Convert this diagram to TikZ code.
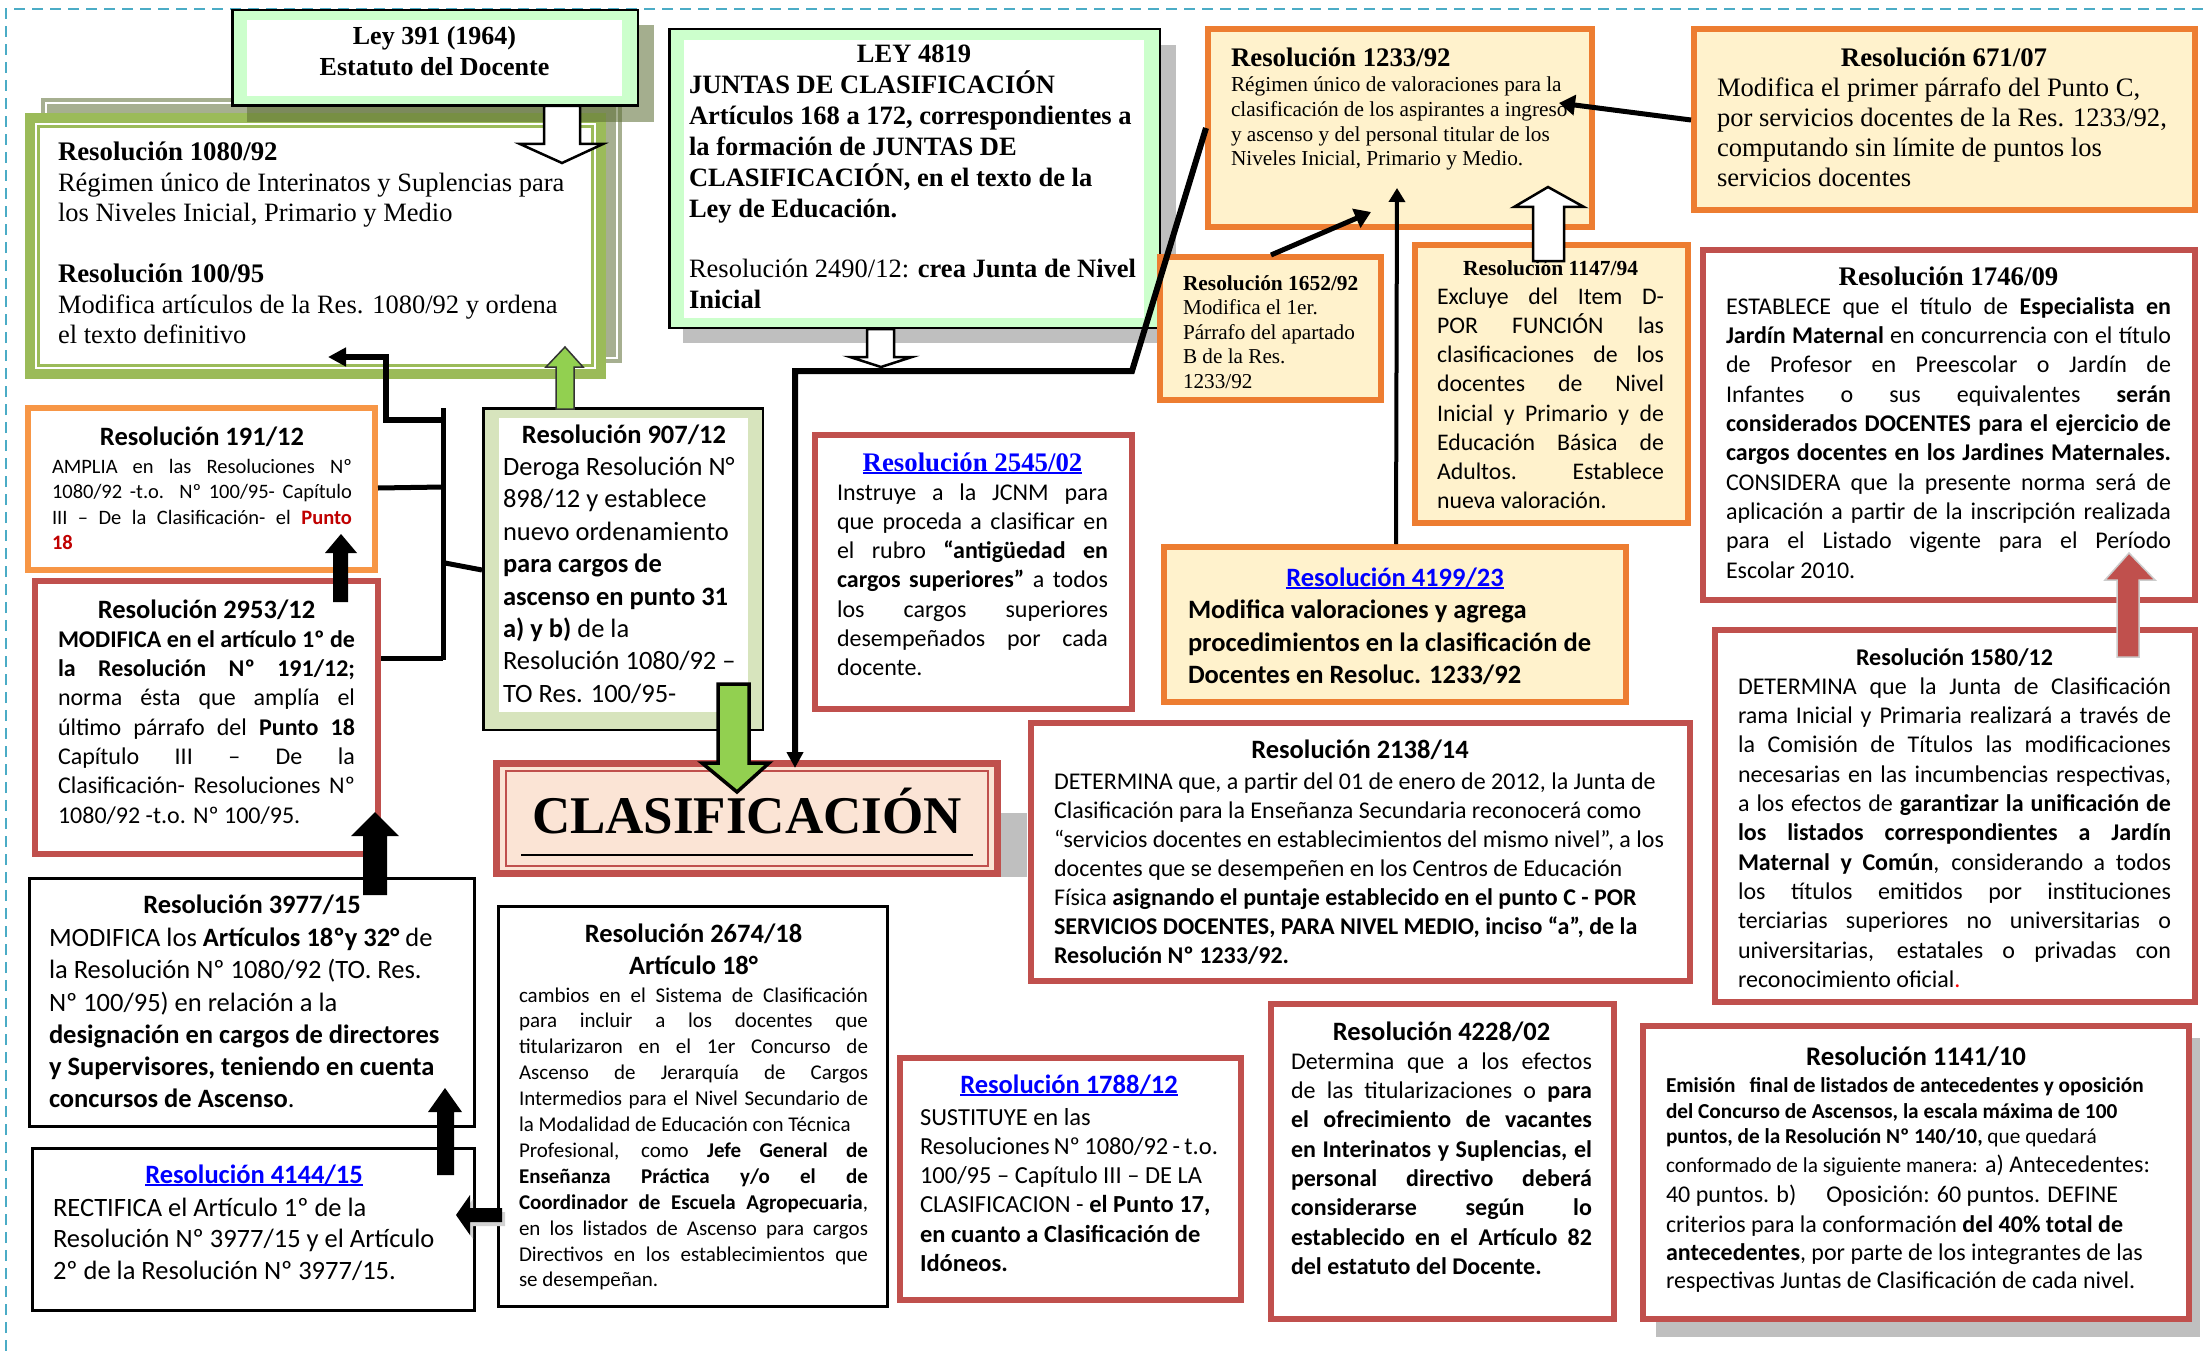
\documentclass[tikz,border=0pt]{standalone}
\usepackage{fontspec}
\setmainfont{Liberation Serif}
\setsansfont{Carlito}
\usetikzlibrary{arrows.meta}
\definecolor{orgA}{HTML}{ED7D31}
\definecolor{orgB}{HTML}{F79646}
\definecolor{yel}{HTML}{FFF2CC}
\definecolor{redB}{HTML}{C0504D}
\definecolor{grn}{HTML}{9BBB59}
\definecolor{lgrn}{HTML}{CCFFCC}
\definecolor{olv}{HTML}{A6AF90}
\definecolor{olvd}{RGB}{91,108,50}
\definecolor{pgrn}{HTML}{D7E4BD}
\definecolor{peach}{HTML}{FBE4D5}
\definecolor{lblue}{HTML}{0000FF}
\definecolor{agrn}{HTML}{92D050}
\definecolor{dashblue}{HTML}{4BACC6}
\definecolor{pred}{HTML}{C00000}
\definecolor{shd}{HTML}{BFBFBF}
\hbadness=10000 \hfuzz=200pt \vbadness=10000 \vfuzz=200pt
\newcommand\JL[1]{\hbox to\hsize{#1}}
\newcommand\LL[1]{\hbox to\hsize{#1\hfil}}
\newcommand\CL[1]{\hbox to\hsize{\hfil#1\hfil}}
\newcommand\tb[4]{\vtop{\hsize=#1pt\relax\fontsize{#2}{#3}\selectfont#4}}
\newcommand\ulk[1]{\textcolor{lblue}{\setbox0\hbox{#1}\rlap{\rule[-0.12em]{\wd0}{0.065em}}\box0}}
\newcommand\bx[7]{\node[#2,inner sep=0pt,outer sep=0pt,minimum width={#5-#3-#7},minimum height={#6-#4-#7}] (#1) at ({(#3+#5)/2},{(#4+#6)/2}) {};}
\newcommand\sT{\fontsize{26.8}{30}\selectfont}
\newcommand\cT{\fontsize{26.5}{30}\selectfont}
\tikzset{
 tx/.style={anchor=base west, inner sep=0pt, outer sep=0pt},
 obox/.style={draw=orgA, line width=6pt, fill=yel},
 obox2/.style={draw=orgB, line width=6pt, fill=white},
 rbox/.style={draw=redB, line width=6pt, fill=white},
 kbox/.style={draw=black, line width=3pt, fill=white},
 gbox/.style={draw=black, line width=2.5pt, fill=lgrn},
 conn/.style={draw=black, line width=5pt},
 hollow/.style={draw=black, line width=2.5pt, fill=white, line join=miter},
 blkarrow/.style={fill=black, draw=none},
}
\begin{document}
\begin{tikzpicture}[x=1pt,y=-1pt]
\useasboundingbox (0,0) rectangle (2205,1351);
\fill[white] (0,0) rectangle (2205,1351);
\draw[dashblue, line width=2.5, dash pattern=on 11pt off 7pt] (6,1351) -- (6,9) -- (2205,9);

% ---------- 1080/92 group ----------
\fill[olv] (41,98) rectangle (622,363);
\draw[white, line width=1.5] (46,103) rectangle (617,358);
\bx{b1080}{fill=grn}{25}{113}{606}{379}{0}
\fill[white] (35,123) rectangle (596,369);
\draw[grn, line width=2.5] (38.5,126.5) rectangle (592.5,365.5);
\fill[olvd, opacity=.55] (247,25) rectangle (654,122);
\bx{bLey}{gbox}{231}{9}{639}{107}{2.5}
\fill[white] (247,20) rectangle (622,96);

% ---------- LEY 4819 ----------
\fill[shd] (683,45) rectangle (1176,343);
\bx{b4819}{gbox}{668}{28}{1161}{329}{2.5}
\fill[white] (684,40) rectangle (1144,318);

% ---------- other boxes ----------
\bx{b1233}{obox}{1205}{26}{1595}{230}{6}
\bx{b671}{obox}{1691}{26}{2198}{213}{6}
\bx{b1652}{obox}{1157}{254}{1384}{403}{6}
\bx{b1147}{obox}{1412}{242}{1691}{526}{6}
\bx{b4199}{obox}{1161}{544}{1629}{705}{6}
\bx{b1746}{rbox}{1700}{247}{2198}{603}{6}
\bx{b1580}{rbox}{1712}{627}{2198}{1005}{6}
\bx{b191}{obox2}{25}{405}{378}{573}{6}
\bx{b2953}{rbox}{32}{578}{381}{857}{6}
\bx{b907}{draw=black,line width=2.5pt,fill=pgrn}{482}{407}{764}{731}{2.5}
\fill[white] (499,418) rectangle (748,712);
\bx{b2545}{rbox}{812}{432}{1135}{712}{6}
\fill[shd] (1001,813) rectangle (1027,877);
\bx{bClas}{draw=redB,line width=7pt,fill=peach}{493}{760}{1001}{877}{7}
\draw[redB, line width=2.5] (506,771) rectangle (988,866);
\draw[line width=2.5] (521,855) -- (973,855);
\bx{b2138}{rbox}{1028}{720}{1693}{984}{6}
\bx{b3977}{kbox}{28}{877}{476}{1128}{3}
\bx{b4144}{kbox}{31}{1147}{476}{1312}{3}
\bx{b2674}{kbox}{497}{905}{889}{1308}{3}
\bx{b1788}{rbox}{897}{1055}{1244}{1303}{6}
\bx{b4228}{rbox}{1268}{1001}{1617}{1322}{6}
\fill[shd] (1656,1038) rectangle (2200,1337);
\bx{b1141}{rbox}{1640}{1023}{2192}{1322}{6}

% ---------- texts ----------
\node[tx] (tLey) at (247,45) {\tb{375}{26}{31}{\bfseries
\CL{Ley 391 (1964)}
\CL{Estatuto del Docente}}};

\node[tx] (t1080) at (58,161) {\tb{535}{26.5}{30.5}{%
\LL{\bfseries\sT Resolución 1080/92}
\LL{Régimen único de Interinatos y Suplencias para}
\LL{los Niveles Inicial, Primario y Medio}
\vskip30.5pt
\LL{\bfseries\sT Resolución 100/95}
\LL{Modifica artículos de la Res. 1080/92 y ordena}
\LL{el texto definitivo}}};

\node[tx] (t4819) at (689,63) {\tb{450}{26.5}{31}{\bfseries
\CL{LEY 4819}
\LL{JUNTAS DE CLASIFICACIÓN}
\LL{Artículos 168 a 172, correspondientes a}
\LL{la formación de JUNTAS DE}
\LL{CLASIFICACIÓN, en el texto de la}
\LL{Ley de Educación.}
\vskip29pt
\LL{\mdseries Resolución 2490/12: \bfseries crea Junta de Nivel}
\LL{Inicial}}};

\node[tx] (t1233) at (1231,67) {\tb{355}{21.3}{24.7}{%
\LL{\bfseries\sT Resolución 1233/92}
\LL{Régimen único de valoraciones para la}
\LL{clasificación de los aspirantes a ingreso}
\LL{y ascenso y del personal titular de los}
\LL{Niveles Inicial, Primario y Medio.}}};

\node[tx] (t671) at (1717,67) {\tb{454}{26.6}{30}{%
\CL{\bfseries\sT Resolución 671/07}
\LL{Modifica el primer párrafo del Punto C,}
\LL{por servicios docentes de la Res. 1233/92,}
\LL{computando sin límite de puntos los}
\LL{servicios docentes}}};

\node[tx] (t1652) at (1183,290) {\tb{195}{21.2}{24.5}{%
\LL{\bfseries\fontsize{21.4}{24}\selectfont Resolución 1652/92}
\LL{Modifica el 1er.}
\LL{Párrafo del apartado}
\LL{B de la Res.}
\LL{1233/92}}};

\node[tx] (t1147) at (1437,275) {\tb{227}{23.8}{29.2}{\sffamily
\CL{\rmfamily\bfseries\fontsize{21.5}{24}\selectfont Resolución 1147/94}
\JL{Excluye del Item D-}
\JL{POR FUNCIÓN las}
\JL{clasificaciones de los}
\JL{docentes de Nivel}
\JL{Inicial y Primario y de}
\JL{Educación Básica de}
\JL{Adultos. Establece}
\LL{nueva valoración.}}};

\node[tx] (t1746) at (1726,285) {\tb{445}{24}{29.3}{\sffamily
\CL{\rmfamily\bfseries\sT Resolución 1746/09}
\JL{ESTABLECE que el título de \textbf{Especialista en}}
\JL{\textbf{Jardín Maternal} en concurrencia con el título}
\JL{de Profesor en Preescolar o Jardín de}
\JL{Infantes o sus equivalentes \textbf{serán}}
\JL{\textbf{considerados DOCENTES para el ejercicio de}}
\JL{\textbf{cargos docentes en los Jardines Maternales.}}
\JL{CONSIDERA que la presente norma será de}
\JL{aplicación a partir de la inscripción realizada}
\JL{para el Listado vigente para el Período}
\LL{Escolar 2010.}}};

\node[tx] (t1580) at (1738,665) {\tb{433}{24}{29.3}{\sffamily
\CL{\bfseries\fontsize{24}{28}\selectfont Resolución 1580/12}
\JL{DETERMINA que la Junta de Clasificación}
\JL{rama Inicial y Primaria realizará a través de}
\JL{la Comisión de Títulos las modificaciones}
\JL{necesarias en las incumbencias respectivas,}
\JL{a los efectos de \textbf{garantizar la unificación de}}
\JL{\textbf{los listados correspondientes a Jardín}}
\JL{\textbf{Maternal y Común}, considerando a todos}
\JL{los títulos emitidos por instituciones}
\JL{terciarias superiores no universitarias o}
\JL{universitarias, estatales o privadas con}
\LL{reconocimiento oficial\textcolor{red}{.}}}};

\node[tx] (t2138) at (1054,758) {\tb{612}{24}{28.9}{\sffamily
\CL{\bfseries\cT Resolución 2138/14}
\vskip3pt
\LL{DETERMINA que, a partir del 01 de enero de 2012, la Junta de}
\LL{Clasificación para la Enseñanza Secundaria reconocerá como}
\LL{“servicios docentes en establecimientos del mismo nivel”, a los}
\LL{docentes que se desempeñen en los Centros de Educación}
\LL{Física \textbf{asignando el puntaje establecido en el punto C - POR}}
\LL{\textbf{SERVICIOS DOCENTES, PARA NIVEL MEDIO, inciso “a”, de la}}
\LL{\textbf{Resolución Nº 1233/92.}}}};

\node[tx] (t4199) at (1188,586) {\tb{414}{26.5}{32.5}{\sffamily\bfseries
\CL{\cT\ulk{Resolución 4199/23}}
\LL{Modifica valoraciones y agrega}
\LL{procedimientos en la clasificación de}
\LL{Docentes en Resoluc. 1233/92}}};

\node[tx] (t907) at (503,443) {\tb{242}{26.5}{32.4}{\sffamily
\CL{\bfseries Resolución 907/12}
\LL{Deroga Resolución N°}
\LL{898/12 y establece}
\LL{nuevo ordenamiento}
\LL{\bfseries para cargos de}
\LL{\bfseries ascenso en punto 31}
\LL{\textbf{a) y b)} de la}
\LL{Resolución 1080/92 –}
\LL{TO Res. 100/95-}}};

\node[tx] (t2545) at (837,471) {\tb{271}{24}{29.2}{\sffamily
\CL{\rmfamily\bfseries\sT\ulk{Resolución 2545/02}}
\JL{Instruye a la JCNM para}
\JL{que proceda a clasificar en}
\JL{el rubro \textbf{“antigüedad en}}
\JL{\textbf{cargos superiores”} a todos}
\JL{los cargos superiores}
\JL{desempeñados por cada}
\LL{docente.}}};

\node[anchor=base, inner sep=0pt] (tClas) at (747,833) {\fontsize{53}{56}\selectfont\bfseries CLASIFICACIÓN};

\node[tx] (t2953) at (58,618) {\tb{297}{24}{29.3}{\sffamily
\CL{\bfseries\cT Resolución 2953/12}
\JL{\bfseries MODIFICA en el artículo 1º de}
\JL{\bfseries la Resolución Nº 191/12;}
\JL{norma ésta que amplía el}
\JL{último párrafo del \textbf{Punto 18}}
\JL{Capítulo III – De la}
\JL{Clasificación- Resoluciones Nº}
\LL{1080/92 -t.o. Nº 100/95.}}};

\node[tx] (t191) at (52,445) {\tb{300}{20.5}{25.5}{\sffamily
\CL{\bfseries\cT Resolución 191/12}
\vskip2.5pt
\JL{AMPLIA en las Resoluciones Nº}
\JL{1080/92 -t.o. Nº 100/95- Capítulo}
\JL{III – De la Clasificación- el \textcolor{pred}{\textbf{Punto}}}
\LL{\textcolor{pred}{\textbf{18}}}}};

\node[tx] (t3977) at (49,913) {\tb{406}{26.5}{32.2}{\sffamily
\CL{\bfseries\cT Resolución 3977/15}
\vskip1.5pt
\LL{MODIFICA los \textbf{Artículos 18ºy 32°} de}
\LL{la Resolución Nº 1080/92 (TO. Res.}
\LL{Nº 100/95) en relación a la}
\LL{\bfseries designación en cargos de directores}
\LL{\bfseries y Supervisores, teniendo en cuenta}
\LL{\textbf{concursos de Ascenso}.}}};

\node[tx] (t4144) at (53,1183) {\tb{402}{26.5}{31.5}{\sffamily
\CL{\bfseries\cT\ulk{Resolución 4144/15}}
\vskip1.5pt
\LL{RECTIFICA el Artículo 1º de la}
\LL{Resolución Nº 3977/15 y el Artículo}
\LL{2º de la Resolución Nº 3977/15.}}};

\node[tx] (t2674) at (519,942) {\tb{349}{21}{25.9}{\sffamily
\CL{\bfseries\cT Resolución 2674/18}
\vskip6.1pt
\CL{\bfseries\cT Artículo 18°}
\vskip2.1pt
\JL{cambios en el Sistema de Clasificación}
\JL{para incluir a los docentes que}
\JL{titularizaron en el 1er Concurso de}
\JL{Ascenso de Jerarquía de Cargos}
\JL{Intermedios para el Nivel Secundario de}
\LL{la Modalidad de Educación con Técnica}
\JL{Profesional, como \textbf{Jefe General de}}
\JL{\textbf{Enseñanza Práctica y/o el de}}
\JL{\textbf{Coordinador de Escuela Agropecuaria},}
\JL{en los listados de Ascenso para cargos}
\JL{Directivos en los establecimientos que}
\LL{se desempeñan.}}};

\node[tx] (t1788) at (920,1093) {\tb{298}{24.5}{29.3}{\sffamily
\CL{\bfseries\cT\ulk{Resolución 1788/12}}
\vskip2.7pt
\LL{SUSTITUYE en las}
\LL{Resoluciones Nº 1080/92 - t.o.}
\LL{100/95 – Capítulo III – DE LA}
\LL{CLASIFICACION - \textbf{el Punto 17,}}
\LL{\textbf{en cuanto a Clasificación de}}
\LL{\textbf{Idóneos.}}}};

\node[tx] (t4228) at (1291,1040) {\tb{301}{24}{29.3}{\sffamily
\CL{\bfseries\cT Resolución 4228/02}
\JL{Determina que a los efectos}
\JL{de las titularizaciones o \textbf{para}}
\JL{\bfseries el ofrecimiento de vacantes}
\JL{\bfseries en Interinatos y Suplencias, el}
\JL{\bfseries personal directivo deberá}
\JL{\bfseries considerarse según lo}
\JL{\bfseries establecido en el Artículo 82}
\LL{\bfseries del estatuto del Docente.}}};

\node[tx] (t1141) at (1666,1065) {\tb{500}{24}{28}{\sffamily\baselineskip=0pt\lineskiplimit=-1000pt\lineskip=0pt
\CL{\bfseries\fontsize{26.8}{30}\selectfont Resolución 1141/10}
\vskip27pt\LL{\bfseries\fontsize{21.3}{22}\selectfont Emisión\hspace{14pt}final de listados de antecedentes y oposición}
\vskip26pt\LL{\bfseries\fontsize{21.3}{22}\selectfont del Concurso de Ascensos, la escala máxima de 100}
\vskip25pt\LL{\fontsize{21.3}{22}\selectfont\textbf{puntos, de la Resolución Nº 140/10,} que quedará}
\vskip29pt\LL{{\fontsize{21.3}{22}\selectfont conformado de la siguiente manera:} a) Antecedentes:}
\vskip30pt\LL{40 puntos. b)\hspace{30pt}Oposición: 60 puntos. DEFINE}
\vskip30pt\LL{criterios para la conformación \textbf{del 40\% total de}}
\vskip28pt\LL{\textbf{antecedentes}, por parte de los integrantes de las}
\vskip28pt\LL{respectivas Juntas de Clasificación de cada nivel.}}};

% ---------- connectors ----------
\coordinate (cBrTop) at (443,420);
\coordinate (c1080in) at (328,357);
\coordinate (cBarTop) at (443,408);
\coordinate (cBarBot) at (443,660);
\coordinate (c191R) at (378,488);
\coordinate (c2953R) at (381,658);
\coordinate (c907L) at (482,570);
\coordinate (cBarMid) at (445,563);
\draw[conn, line width=5.5, line join=miter, -{Triangle[length=18pt,width=18pt]}] (cBrTop) -- (386,420) -- (386,357) -- (c1080in);
\draw[conn] (cBarTop) -- (cBarBot);
\draw[conn] (c191R) -- (443,487);
\draw[conn] (c2953R) -- (443,658);
\draw[conn] (cBarMid) -- (c907L);

\coordinate (c1233L) at (1206,128);
\coordinate (cClasT) at (795,768);
\draw[conn, line width=6, line join=miter, -{Triangle[length=16pt,width=16pt]}] (c1233L) -- (1132,371) -- (795,371) -- (cClasT);

\coordinate (c671L) at (1691,120);
\coordinate (c1233R) at (1559,103);
\draw[conn, -{Triangle[length=16pt,width=20pt]}] (c671L) -- (c1233R);
\coordinate (c1652T) at (1271,255);
\coordinate (c1233B) at (1371,212);
\draw[conn, -{Triangle[length=16pt,width=20pt]}] (c1652T) -- (c1233B);
\coordinate (c4199T) at (1396,544);
\coordinate (c1233B2) at (1397,188);
\draw[conn, line width=4, -{Triangle[length=14pt,width=16pt]}] (c4199T) -- (c1233B2);

% block arrows
\filldraw[hollow] (544,106) -- (544,144) -- (520,144) -- (562,163) -- (603,144) -- (580,144) -- (580,106) -- cycle;
\filldraw[hollow] (867,329) -- (867,357) -- (850,357) -- (881,367) -- (912,357) -- (894,357) -- (894,329) -- cycle;
\filldraw[hollow] (1533,261) -- (1533,207) -- (1514,207) -- (1548,187) -- (1584,207) -- (1564,207) -- (1564,261) -- cycle;
\filldraw[fill=agrn, draw=black!80, line width=1.5] (556,409) -- (556,367) -- (546,367) -- (565,347) -- (583,367) -- (574,367) -- (574,409) -- cycle;
\filldraw[fill=agrn, draw=black, line width=3.5, line join=miter] (718,684) -- (749,684) -- (749,763) -- (769,763) -- (737,792) -- (702,763) -- (718,763) -- cycle;
\fill[blkarrow] (333,602) -- (333,553) -- (325,553) -- (341,534) -- (357,553) -- (348,553) -- (348,602) -- cycle;
\fill[blkarrow] (363,895) -- (363,836) -- (351,836) -- (375,812) -- (399,836) -- (387,836) -- (387,895) -- cycle;
\fill[blkarrow] (437,1175) -- (437,1112) -- (428,1112) -- (445,1088) -- (462,1112) -- (454,1112) -- (454,1175) -- cycle;
\fill[gray!35] (505,1212) -- (473,1212) -- (473,1199) -- (459,1219) -- (473,1239) -- (473,1226) -- (505,1226) -- cycle;
\fill[blkarrow] (502,1208) -- (470,1208) -- (470,1195) -- (456,1215) -- (470,1235) -- (470,1222) -- (502,1222) -- cycle;
\filldraw[fill=redB, draw=gray!40, line width=1.5] (2117,657) -- (2117,580) -- (2105,580) -- (2129,553) -- (2155,580) -- (2139,580) -- (2139,657) -- cycle;
\end{tikzpicture}
\end{document}
